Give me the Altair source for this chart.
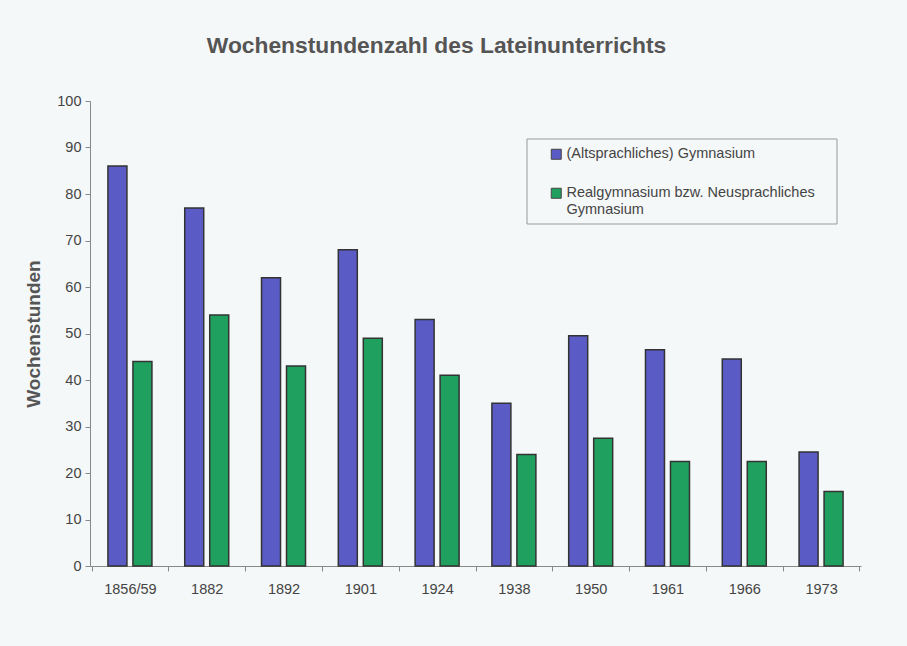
import altair as alt
import pandas as pd

years = ["1856/59", "1882", "1892", "1901", "1924", "1938", "1950", "1961", "1966", "1973"]
alt_gym = [86, 77, 62, 68, 53, 35, 49.5, 46.5, 44.5, 24.5]
real_gym = [44, 54, 43, 49, 41, 24, 27.5, 22.5, 22.5, 16]
series = ["(Altsprachliches) Gymnasium", "Realgymnasium bzw. Neusprachliches Gymnasium"]
colors = ["#5b5bc6", "#20a05e"]

rows = []
for y, a, r in zip(years, alt_gym, real_gym):
    rows.append({"Jahr": y, "Schulform": series[0], "Wert": a})
    rows.append({"Jahr": y, "Schulform": series[1], "Wert": r})
df = pd.DataFrame(rows)

font = "Liberation Sans"
grey = "#555555"

bars = alt.Chart(df).mark_bar(stroke="#333333", strokeWidth=1.5).encode(
    x=alt.X("Jahr:N", sort=years, title=None,
            scale=alt.Scale(paddingInner=0, paddingOuter=0.02),
            axis=alt.Axis(labelAngle=0, labelFont=font, labelFontSize=14.5, labelColor="#444",
                          labelPadding=11, tickBand="extent", tickSize=5, tickColor="#888",
                          domainColor="#888", domainWidth=1)),
    xOffset=alt.XOffset("Schulform:N", sort=series,
                        scale=alt.Scale(paddingInner=0.24, paddingOuter=0.656)),
    y=alt.Y("Wert:Q", title="Wochenstunden",
            scale=alt.Scale(domain=[0, 100], nice=False),
            axis=alt.Axis(values=list(range(0, 101, 10)), grid=False, labelFont=font,
                          labelFontSize=14.5, labelColor="#444", tickSize=5, tickColor="#888",
                          domainColor="#888", labelPadding=4,
                          titleFont=font, titleFontSize=19, titleColor=grey,
                          titleFontWeight="bold", titlePadding=13)),
    color=alt.Color("Schulform:N", sort=series,
                    scale=alt.Scale(domain=series, range=colors),
                    legend=alt.Legend(title=None, orient="none", legendX=459, legendY=46,
                                      padding=0,
                                      labelFont=font, labelFontSize=14.5, labelColor="#444",
                                      symbolType="square", symbolSize=100,
                                      symbolStrokeColor="#444", symbolStrokeWidth=1,
                                      labelOffset=3,
                                      rowPadding=23, labelLimit=400,
                                      labelExpr="datum.label == 'Realgymnasium bzw. Neusprachliches Gymnasium' ? ['Realgymnasium bzw. Neusprachliches', 'Gymnasium'] : datum.label")),
)

legend_box = alt.Chart(df.head(1)).mark_rect(fill=None, stroke="#999999", strokeWidth=1).encode(
    x=alt.value(437), x2=alt.value(747), y=alt.value(38), y2=alt.value(123)
)

chart = alt.layer(bars, legend_box).properties(
    width=771,
    height=465,
    title=alt.TitleParams("Wochenstundenzahl des Lateinunterrichts", font=font, fontSize=22.8,
                          fontWeight="bold", color=grey, anchor="middle", offset=35,
                          dx=-39),
    background="#f5f8f8",
    padding={"left": 90, "top": 101, "right": 46, "bottom": 80},
    autosize=alt.AutoSizeParams(type="none"),
).configure_view(stroke=None)

chart.save("out.html", embed_options={"renderer": "svg", "actions": False})
